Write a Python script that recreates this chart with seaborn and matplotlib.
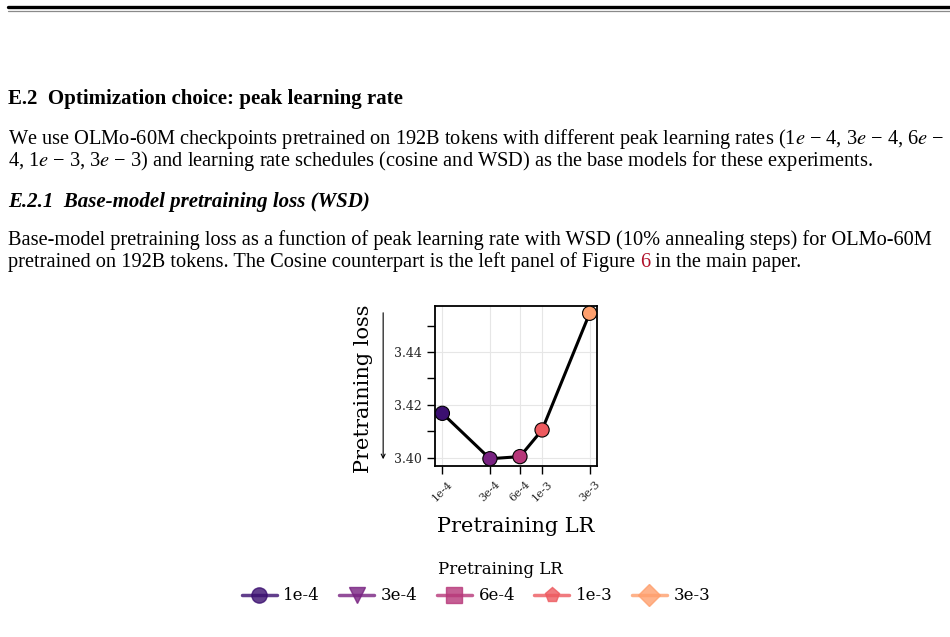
import numpy as np
import matplotlib
matplotlib.use("Agg")
import matplotlib.pyplot as plt
import matplotlib.ticker as mticker
from matplotlib.lines import Line2D
import pandas as pd
import seaborn as sns

# chart values
lr_values = [1e-4, 3e-4, 6e-4, 1e-3, 3e-3]
lr_labels = ["1e-4", "3e-4", "6e-4", "1e-3", "3e-3"]
pretrain_loss = [3.4168, 3.3996, 3.4004, 3.4105, 3.4547]
legend_markers = ["o", "v", "s", "p", "D"]

df = pd.DataFrame({"lr": lr_values, "label": lr_labels, "loss": pretrain_loss})
magma = sns.color_palette("magma", as_cmap=True)
colors = [magma(v) for v in np.linspace(0.2, 0.8, len(lr_labels))]

sns.set_style("ticks")
plt.rcParams["font.family"] = "DejaVu Serif"
plt.rcParams["mathtext.fontset"] = "stix"
plt.rcParams["text.color"] = "black"
plt.rcParams["axes.labelcolor"] = "black"

W, H = 950, 637
fig = plt.figure(figsize=(W / 100, H / 100), dpi=100)


def fx(x):
    return x / W


def fy(y):
    return 1 - y / H


# page header rules
fig.add_artist(Line2D([fx(8), 1], [fy(7), fy(7)], color="black", lw=2.4))
fig.add_artist(Line2D([fx(8), 1], [fy(11), fy(11)], color="#8a8a8a", lw=0.9))

# page text
page_font = "Liberation Serif"
fs = 14.7
fig.text(fx(8), fy(104), "E.2  Optimization choice: peak learning rate",
         family=page_font, fontsize=15, weight="bold", va="baseline")
fig.text(fx(8), fy(144),
         "We use OLMo-60M checkpoints pretrained on 192B tokens with different peak learning rates "
         "(1$e$ − 4, 3$e$ − 4, 6$e$ −",
         family=page_font, fontsize=fs, va="baseline")
fig.text(fx(8), fy(166),
         "4, 1$e$ − 3, 3$e$ − 3) and learning rate schedules (cosine and WSD) as the base models for these experiments.",
         family=page_font, fontsize=fs, va="baseline")
fig.text(fx(8), fy(207), "E.2.1  Base-model pretraining loss (WSD)",
         family=page_font, fontsize=15, weight="bold", style="italic", va="baseline")
fig.text(fx(8), fy(245),
         "Base-model pretraining loss as a function of peak learning rate with WSD (10% annealing steps) for OLMo-60M",
         family=page_font, fontsize=fs, va="baseline")
t1 = fig.text(fx(8), fy(267),
              "pretrained on 192B tokens. The Cosine counterpart is the left panel of Figure ",
              family=page_font, fontsize=fs, va="baseline")
renderer = fig.canvas.get_renderer()
x_next = t1.get_window_extent(renderer).x1 / W
t2 = fig.text(x_next, fy(267), "6", family=page_font, fontsize=fs, color="#b0102a", va="baseline")
x_next = t2.get_window_extent(renderer).x1 / W
fig.text(x_next, fy(267), " in the main paper.", family=page_font, fontsize=fs, va="baseline")

# chart
ax = fig.add_axes([fx(435), fy(466), 162 / W, 160 / H])
sns.lineplot(data=df, x="lr", y="loss", color="black", lw=2.2, ax=ax, zorder=2)
sns.scatterplot(data=df, x="lr", y="loss", hue="label", palette=colors, s=105,
                edgecolor="black", linewidth=0.8, zorder=3, legend=False, ax=ax)
ax.set_xscale("log")
ax.set_xticks(lr_values)
ax.set_xticklabels(lr_labels, rotation=45, fontsize=8)
ax.xaxis.set_minor_locator(mticker.NullLocator())
ax.yaxis.set_major_locator(mticker.MultipleLocator(0.02))
ax.yaxis.set_minor_locator(mticker.MultipleLocator(0.01))
ax.yaxis.set_major_formatter(mticker.FormatStrFormatter("%.2f"))
ax.tick_params(which="both", length=5.5, width=1, color="black", labelcolor="#262626")
ax.tick_params(axis="y", labelsize=9, pad=4)
ax.tick_params(axis="x", pad=4)
ax.grid(True, which="major", color="#e6e6e6", lw=0.8)
for sp in ax.spines.values():
    sp.set_linewidth(1.3)
    sp.set_color("black")

ax.set_xlabel("Pretraining LR", fontsize=15)
ax.xaxis.set_label_coords(0.5, -0.32)
ax.set_ylabel("Pretraining loss", fontsize=15)
ax.yaxis.set_label_coords(-0.383, 0.48)
ax.annotate("", xy=(-0.32, 0.025), xytext=(-0.32, 0.975), xycoords="axes fraction",
            arrowprops=dict(arrowstyle="->", color="black", lw=0.8, mutation_scale=7))

# legend below the chart
handles = [Line2D([], [], color=c, marker=m, lw=2.5, markersize=11, alpha=0.8)
           for c, m in zip(colors, legend_markers)]
fig.legend(handles, lr_labels, ncol=5, frameon=False,
           loc="center", bbox_to_anchor=(fx(476), fy(596)), fontsize=12,
           handlelength=2.1, handletextpad=0.4, columnspacing=1.15)
fig.text(fx(500), fy(570), "Pretraining LR", fontsize=12, ha="center", va="center")

fig.savefig("out.png", dpi=100)
